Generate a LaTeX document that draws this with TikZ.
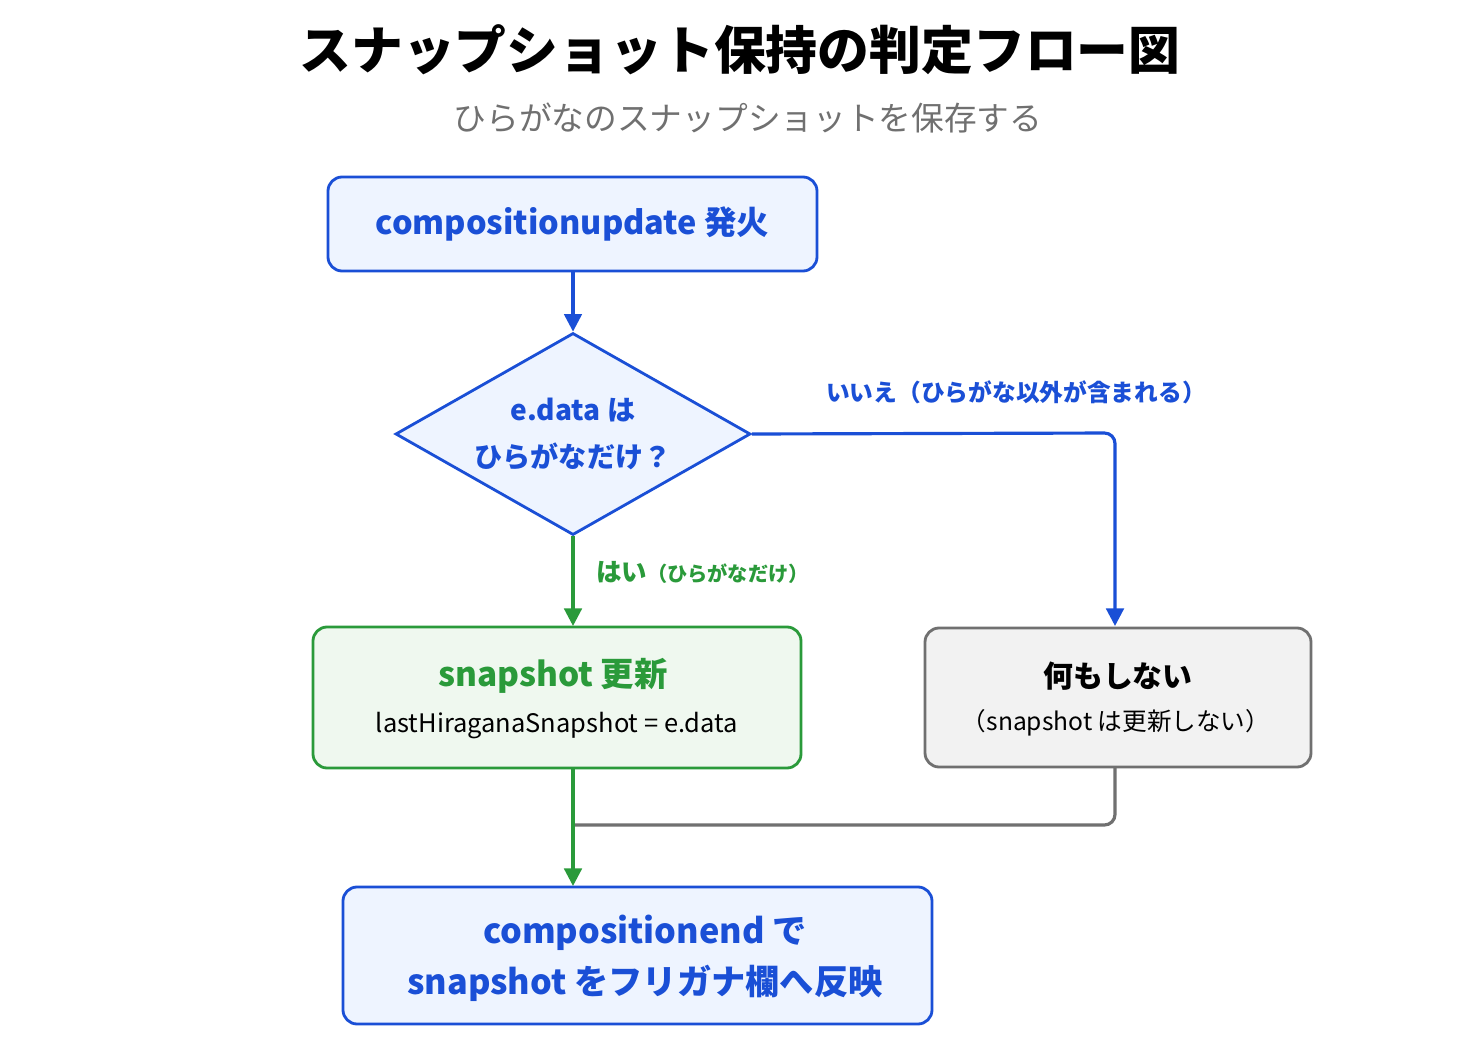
\documentclass[tikz,border=0pt]{standalone}
\usepackage{fontspec}
\setmainfont{Noto Sans CJK JP}
\usetikzlibrary{shapes.geometric,arrows.meta}
\definecolor{cblue}{HTML}{1A4FD6}
\definecolor{cgreen}{HTML}{2A9A3A}
\definecolor{cgray}{HTML}{707070}
\definecolor{fblue}{HTML}{EEF4FF}
\definecolor{fgreen}{HTML}{EFF8EF}
\definecolor{fgray}{HTML}{F2F2F2}
\tikzset{
  box/.style={draw, line width=1.6pt, rounded corners=8pt, align=center, inner sep=0pt},
  arr/.style={line width=1.8pt, -{Triangle[length=10pt,width=10pt]}},
}
\begin{document}
\begin{tikzpicture}[x=0.02cm,y=-0.02cm]
\useasboundingbox (0,0) rectangle (1484,1060);
\fill[white] (0,0) rectangle (1484,1060);
\node (title) at (740,50) {\fontsize{29.5}{34}\selectfont\bfseries スナップショット保持の判定フロー図};
\node[text=cgray] (sub) at (748,118) {\fontsize{18.6}{22}\selectfont ひらがなのスナップショットを保存する};

\node[box, draw=cblue, fill=fblue, text=cblue, minimum width=489*0.02cm, minimum height=94*0.02cm] (b1) at (572.5,224) {\fontsize{18.5}{24}\selectfont\bfseries compositionupdate 発火};

\node[diamond, draw=cblue, line width=1.6pt, fill=fblue, text=cblue, minimum width=355*0.02cm, minimum height=202*0.02cm, inner sep=0pt, aspect=1.76] (d) at (573,434) {};
\node[text=cblue, align=center, font=\fontsize{16}{27}\selectfont\bfseries] (dt) at (573,434) {e.data は\\ ひらがなだけ？};

\node[box, draw=cgreen, fill=fgreen, minimum width=488*0.02cm, minimum height=141*0.02cm] (g) at (557,697.5) {};
\node[text=cgreen] (gt1) at (553,676) {\fontsize{19}{24}\selectfont\bfseries snapshot 更新};
\node (gt2) at (557,726) {\fontsize{14.5}{18}\selectfont lastHiraganaSnapshot = e.data};

\node[box, draw=cgray, fill=fgray, minimum width=386*0.02cm, minimum height=139*0.02cm] (n) at (1118,697.5) {};
\node (nt1) at (1118,676) {\fontsize{17}{22}\selectfont\bfseries 何もしない};
\node (nt2) at (1116,723) {\fontsize{14}{18}\selectfont （snapshot は更新しない）};

\node[box, draw=cblue, fill=fblue, text=cblue, minimum width=589*0.02cm, minimum height=137*0.02cm] (b3) at (637.5,955.5) {};
\node[text=cblue, align=center, font=\fontsize{19.5}{29}\selectfont\bfseries] (b3t) at (645,958) {compositionend で\\ snapshot をフリガナ欄へ反映};

\draw[arr, cblue] (b1.south -| d.north) -- (d.north);
\coordinate (c1) at (1115,433);
\draw[arr, cblue, rounded corners=6pt] (d.east) -- (c1) -- (1115,626);
\node[text=cblue] (lno) at (1016,392) {\fontsize{13.5}{16}\selectfont\bfseries いいえ（ひらがな以外が含まれる）};
\draw[arr, cgreen] (d.south) -- (573,626);
\node[text=cgreen, anchor=west] (lyes) at (590,572) {\fontsize{14.5}{16}\selectfont\bfseries はい\fontsize{11.5}{14}\selectfont（ひらがなだけ）};
\coordinate (c2) at (573,825);
\draw[cgray, line width=1.8pt, rounded corners=6pt] (1115,767) -- (1115,825) -- (c2);
\draw[arr, cgreen] (573,768) -- (573,886);
\end{tikzpicture}
\end{document}
